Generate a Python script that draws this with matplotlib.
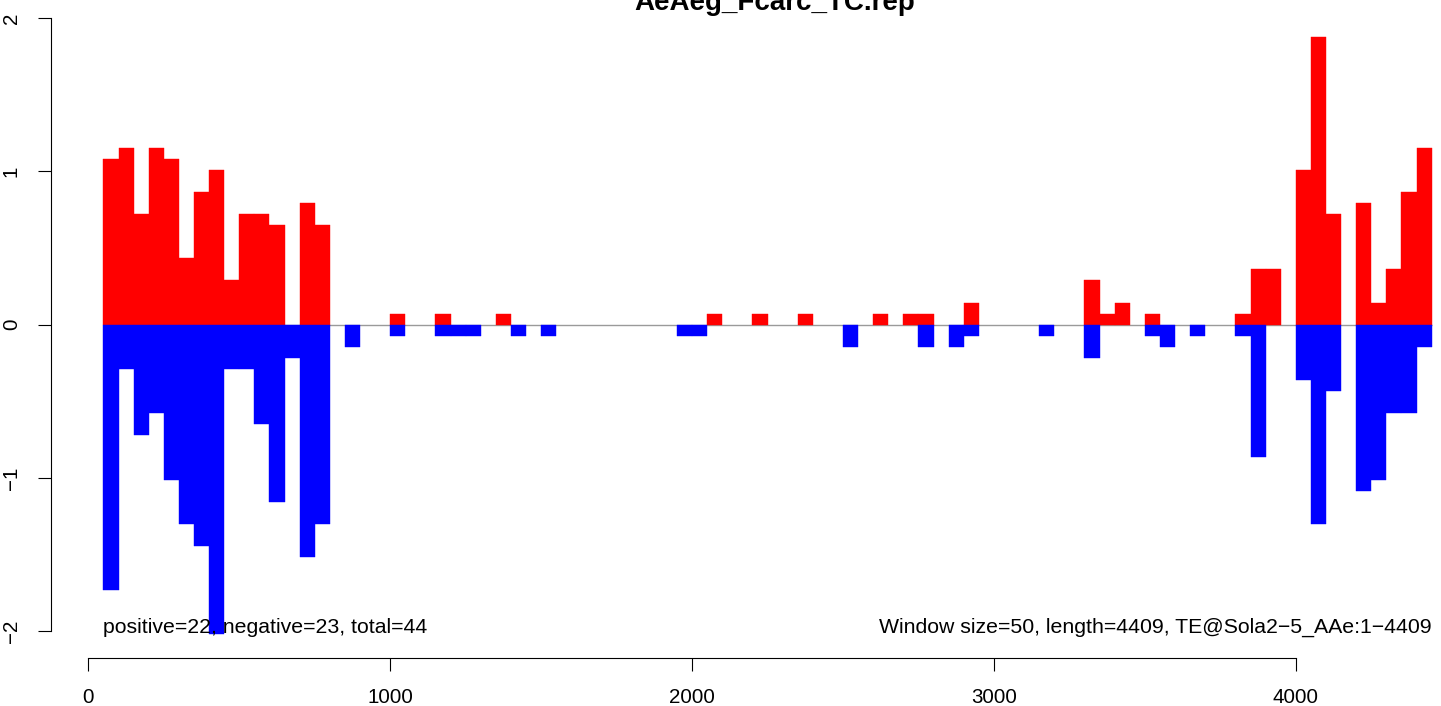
import matplotlib
matplotlib.use('Agg')
import matplotlib.pyplot as plt

plt.rcParams['font.family'] = ['Liberation Sans', 'DejaVu Sans']

# window starts (window size = 50) and values
pos_starts = [50, 100, 150, 200, 250, 300, 350, 400, 450, 500, 550, 600, 700, 750,
              1000, 1150, 1350, 2050, 2200, 2350, 2600, 2700, 2750, 2900,
              3300, 3350, 3400, 3500, 3800, 3850, 3900,
              4000, 4050, 4100, 4200, 4250, 4300, 4350, 4400]
pos_vals = [1.083, 1.155, 0.722, 1.155, 1.083, 0.433, 0.866, 1.011, 0.289, 0.722, 0.722, 0.650, 0.794, 0.650,
            0.072, 0.072, 0.072, 0.072, 0.072, 0.072, 0.072, 0.072, 0.072, 0.144,
            0.289, 0.072, 0.144, 0.072, 0.072, 0.361, 0.361,
            1.011, 1.877, 0.722, 0.794, 0.144, 0.361, 0.866, 1.155]

neg_starts = [50, 100, 150, 200, 250, 300, 350, 400, 450, 500, 550, 600, 650, 700, 750,
              850, 1000, 1150, 1200, 1250, 1400, 1500, 1950, 2000,
              2500, 2750, 2850, 2900, 3150, 3300, 3500, 3550, 3650, 3800, 3850,
              4000, 4050, 4100, 4200, 4250, 4300, 4350, 4400]
neg_vals = [-1.733, -0.289, -0.722, -0.578, -1.011, -1.300, -1.444, -2.022, -0.289, -0.289, -0.650, -1.155, -0.217, -1.516, -1.300,
            -0.144, -0.072, -0.072, -0.072, -0.072, -0.072, -0.072, -0.072, -0.072,
            -0.144, -0.144, -0.144, -0.072, -0.072, -0.217, -0.072, -0.144, -0.072, -0.072, -0.866,
            -0.361, -1.300, -0.433, -1.083, -1.011, -0.578, -0.578, -0.144]

x_ticks = [0, 1000, 2000, 3000, 4000]
y_ticks = [-2, -1, 0, 1, 2]

title = 'AeAeg_Fcarc_TC.rep'
left_note = 'positive=22, negative=23, total=44'
right_note = 'Window size=50, length=4409, TE@Sola2\u22125_AAe:1\u22124409'

W, H = 1441, 706
fig = plt.figure(figsize=(W / 100, H / 100), dpi=100)
ax = fig.add_axes([50.7 / W, (H - 658.3) / H, (W - 50.7) / W, 658.3 / H])

# zero line sits under the bars
ax.hlines(0, 50, 4450, color='#9a9a9a', linewidth=1, zorder=1)
ax.bar(pos_starts, pos_vals, width=50, align='edge', color='#ff0000',
       edgecolor='#ff0000', linewidth=0.3, zorder=2)
ax.bar(neg_starts, neg_vals, width=50, align='edge', color='#0000ff',
       edgecolor='#0000ff', linewidth=0.3, zorder=2)

ax.set_xlim(-124.6, 4481)
ax.set_ylim(-2.178, 2.119)

for s in ['top', 'right']:
    ax.spines[s].set_visible(False)
ax.spines['bottom'].set_bounds(0, 4000)
ax.spines['left'].set_bounds(-2, 2)
for s in ['bottom', 'left']:
    ax.spines[s].set_linewidth(0.8)
    ax.spines[s].set_color('black')

ax.set_xticks(x_ticks)
ax.set_yticks(y_ticks)
ax.set_yticklabels([str(v).replace('-', '\u2212') for v in y_ticks], rotation=90, va='center')
ax.tick_params(axis='both', direction='out', length=9.5, width=0.8, labelsize=14.8, pad=12)

ax.text(50, -1.978, left_note, ha='left', va='center', fontsize=15.3)
ax.text(4450, -1.978, right_note, ha='right', va='center', fontsize=15.3)

# title is clipped by the top edge, as in the reference
fig.text(775 / W, (H - 10) / H, title, ha='center', va='baseline', fontsize=20, fontweight='bold')

fig.savefig('out.png', dpi=100, facecolor='white')
plt.close()
